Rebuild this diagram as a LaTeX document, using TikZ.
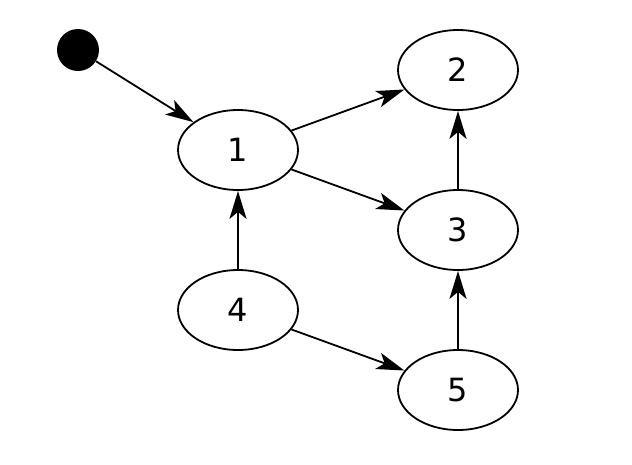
\documentclass[tikz,border=0pt]{standalone}
\usepackage{fontspec}
\setmainfont{DejaVu Sans}
\usetikzlibrary{arrows.meta,shapes.geometric}
\begin{document}
\begin{tikzpicture}[x=1pt,y=-1pt,
  st/.style={ellipse,draw,line width=1.8pt,minimum width=120pt,minimum height=80pt,inner sep=0pt,font=\fontsize{32}{36}\selectfont},
  init/.style={circle,fill=black,minimum size=42pt,inner sep=0pt},
  ed/.style={line width=1.8pt,-{Stealth[length=28pt,width=17pt,inset=7pt]}}]
\useasboundingbox (0,0) rectangle (632,464);
\node[init] (s) at (78,50) {};
\node[st] (n1) at (238,150) {1};
\node[st] (n2) at (458,70) {2};
\node[st] (n3) at (458,230) {3};
\node[st] (n4) at (238,310) {4};
\node[st] (n5) at (458,390) {5};
\draw[ed] (s) -- (n1);
\draw[ed] (n1) -- (n2);
\draw[ed] (n1) -- (n3);
\draw[ed] (n3) -- (n2);
\draw[ed] (n4) -- (n1);
\draw[ed] (n4) -- (n5);
\draw[ed] (n5) -- (n3);
\end{tikzpicture}
\end{document}
